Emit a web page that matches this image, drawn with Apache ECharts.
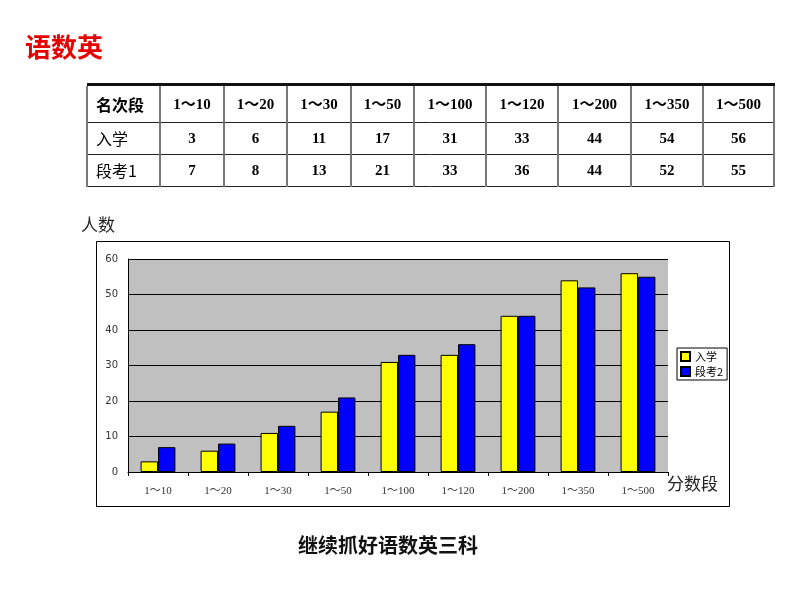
<!DOCTYPE html>
<html>
<head>
<meta charset="utf-8">
<script src="https://cdn.jsdelivr.net/npm/echarts@6/dist/echarts.min.js"></script>
<style>
html,body{margin:0;padding:0;background:#fff;}
#main{width:800px;height:600px;}
</style>
</head>
<body>
<div id="main"></div>
<script>
// ---- data ----
var pageTitle = '语数英';
var tableHeaderLabel = '名次段';
var categories = ['1～10','1～20','1～30','1～50','1～100','1～120','1～200','1～350','1～500'];
var rowLabels = ['入学', '段考1'];
var admission = [3, 6, 11, 17, 31, 33, 44, 54, 56];
var exam = [7, 8, 13, 21, 33, 36, 44, 52, 55];
var seriesNames = ['入学', '段考2'];
var yAxisName = '人数';
var xAxisName = '分数段';
var footerText = '继续抓好语数英三科';
var yTicks = [0, 10, 20, 30, 40, 50, 60];

// ---- layout ----
var colX = [87, 160, 224, 287, 351, 414, 486, 558, 631, 703, 774];
var rowY = [86, 122, 154, 186];
var CJK = '"Noto Sans CJK SC", "Noto Sans", sans-serif';
var NUM = '"Liberation Serif", "DejaVu Serif", "Noto Sans CJK SC", serif';

var graphics = [];
// title
graphics.push({type:'text', left:25, top:34, style:{text:pageTitle, fill:'#e60000', font:'bold 26px ' + CJK}});
// table lines
graphics.push({type:'rect', shape:{x:colX[0], y:83, width:colX[colX.length-1]-colX[0]+1, height:3}, style:{fill:'#111'}});
for (var r = 1; r < rowY.length; r++) {
  graphics.push({type:'line', shape:{x1:colX[0], y1:rowY[r]+0.5, x2:colX[colX.length-1], y2:rowY[r]+0.5}, style:{stroke:'#222', lineWidth:1}});
}
for (var c = 0; c < colX.length; c++) {
  graphics.push({type:'rect', shape:{x:colX[c]-1, y:rowY[0], width:2, height:rowY[3]-rowY[0]+1}, style:{fill:'#777'}});
}
// table text
var rows = [[tableHeaderLabel].concat(categories), [rowLabels[0]].concat(admission), [rowLabels[1]].concat(exam)];
for (var i = 0; i < rows.length; i++) {
  var cy = (rowY[i] + rowY[i+1]) / 2 + 1;
  for (var j = 0; j < rows[i].length; j++) {
    if (j === 0) {
      graphics.push({type:'text', x:colX[0]+9, y:cy, style:{text:String(rows[i][j]), fill:'#000', textVerticalAlign:'middle', textAlign:'left', font:(i===0?'bold ':'')+'16px ' + CJK}});
    } else {
      var cx = (colX[j] + colX[j+1]) / 2;
      graphics.push({type:'text', x:cx, y:cy, style:{text:String(rows[i][j]), fill:'#000', textVerticalAlign:'middle', textAlign:'center', font:'bold 15px ' + NUM}});
    }
  }
}
// chart frame
graphics.push({type:'rect', shape:{x:96.5, y:241.5, width:633, height:265}, style:{fill:'none', stroke:'#000', lineWidth:1}, z:-1});
// axis names
graphics.push({type:'text', left:81, top:216, style:{text:yAxisName, fill:'#222', font:'17px ' + CJK}});
graphics.push({type:'text', left:667, top:475, style:{text:xAxisName, fill:'#222', font:'17px ' + CJK}});
// footer
graphics.push({type:'text', x:388, y:545, style:{text:footerText, fill:'#111', textAlign:'center', textVerticalAlign:'middle', font:'bold 20px ' + CJK}});

var chart = echarts.init(document.getElementById('main'));
chart.setOption({
  animation:false,
  backgroundColor:'#fff',
  graphic: graphics,
  grid:{left:128, top:259, width:540, height:213, show:true, backgroundColor:'#c0c0c0', borderWidth:0, containLabel:false},
  legend:{
    orient:'vertical', left:677, top:348,
    data: seriesNames,
    backgroundColor:'#fff', borderColor:'#000', borderWidth:1,
    padding:[3,4,3,3], itemGap:4, itemWidth:9, itemHeight:9, icon:'rect',
    textStyle:{fontSize:11, color:'#000', fontFamily:CJK}
  },
  xAxis:{
    type:'category', data:categories,
    axisLine:{lineStyle:{color:'#000', width:1}},
    axisTick:{show:true, alignWithLabel:false, length:4, lineStyle:{color:'#000'}},
    axisLabel:{color:'#333', fontSize:11, margin:14, fontFamily:NUM, interval:0},
    splitLine:{show:false}
  },
  yAxis:{
    type:'value', min:yTicks[0], max:yTicks[yTicks.length-1], interval:10,
    axisLine:{show:true, lineStyle:{color:'#000'}},
    axisTick:{show:false},
    axisLabel:{color:'#333', fontSize:10, margin:10, fontFamily:'"DejaVu Sans", sans-serif'},
    splitLine:{show:true, lineStyle:{color:'#000', width:1}}
  },
  series:[
    {name:seriesNames[0], type:'bar', data:admission, barGap:'0%', barCategoryGap:'42%',
     itemStyle:{color:'#ffff00', borderColor:'#000', borderWidth:1}},
    {name:seriesNames[1], type:'bar', data:exam, barGap:'0%', barCategoryGap:'42%',
     itemStyle:{color:'#0000ff', borderColor:'#000', borderWidth:1}}
  ]
});
</script>
</body>
</html>
